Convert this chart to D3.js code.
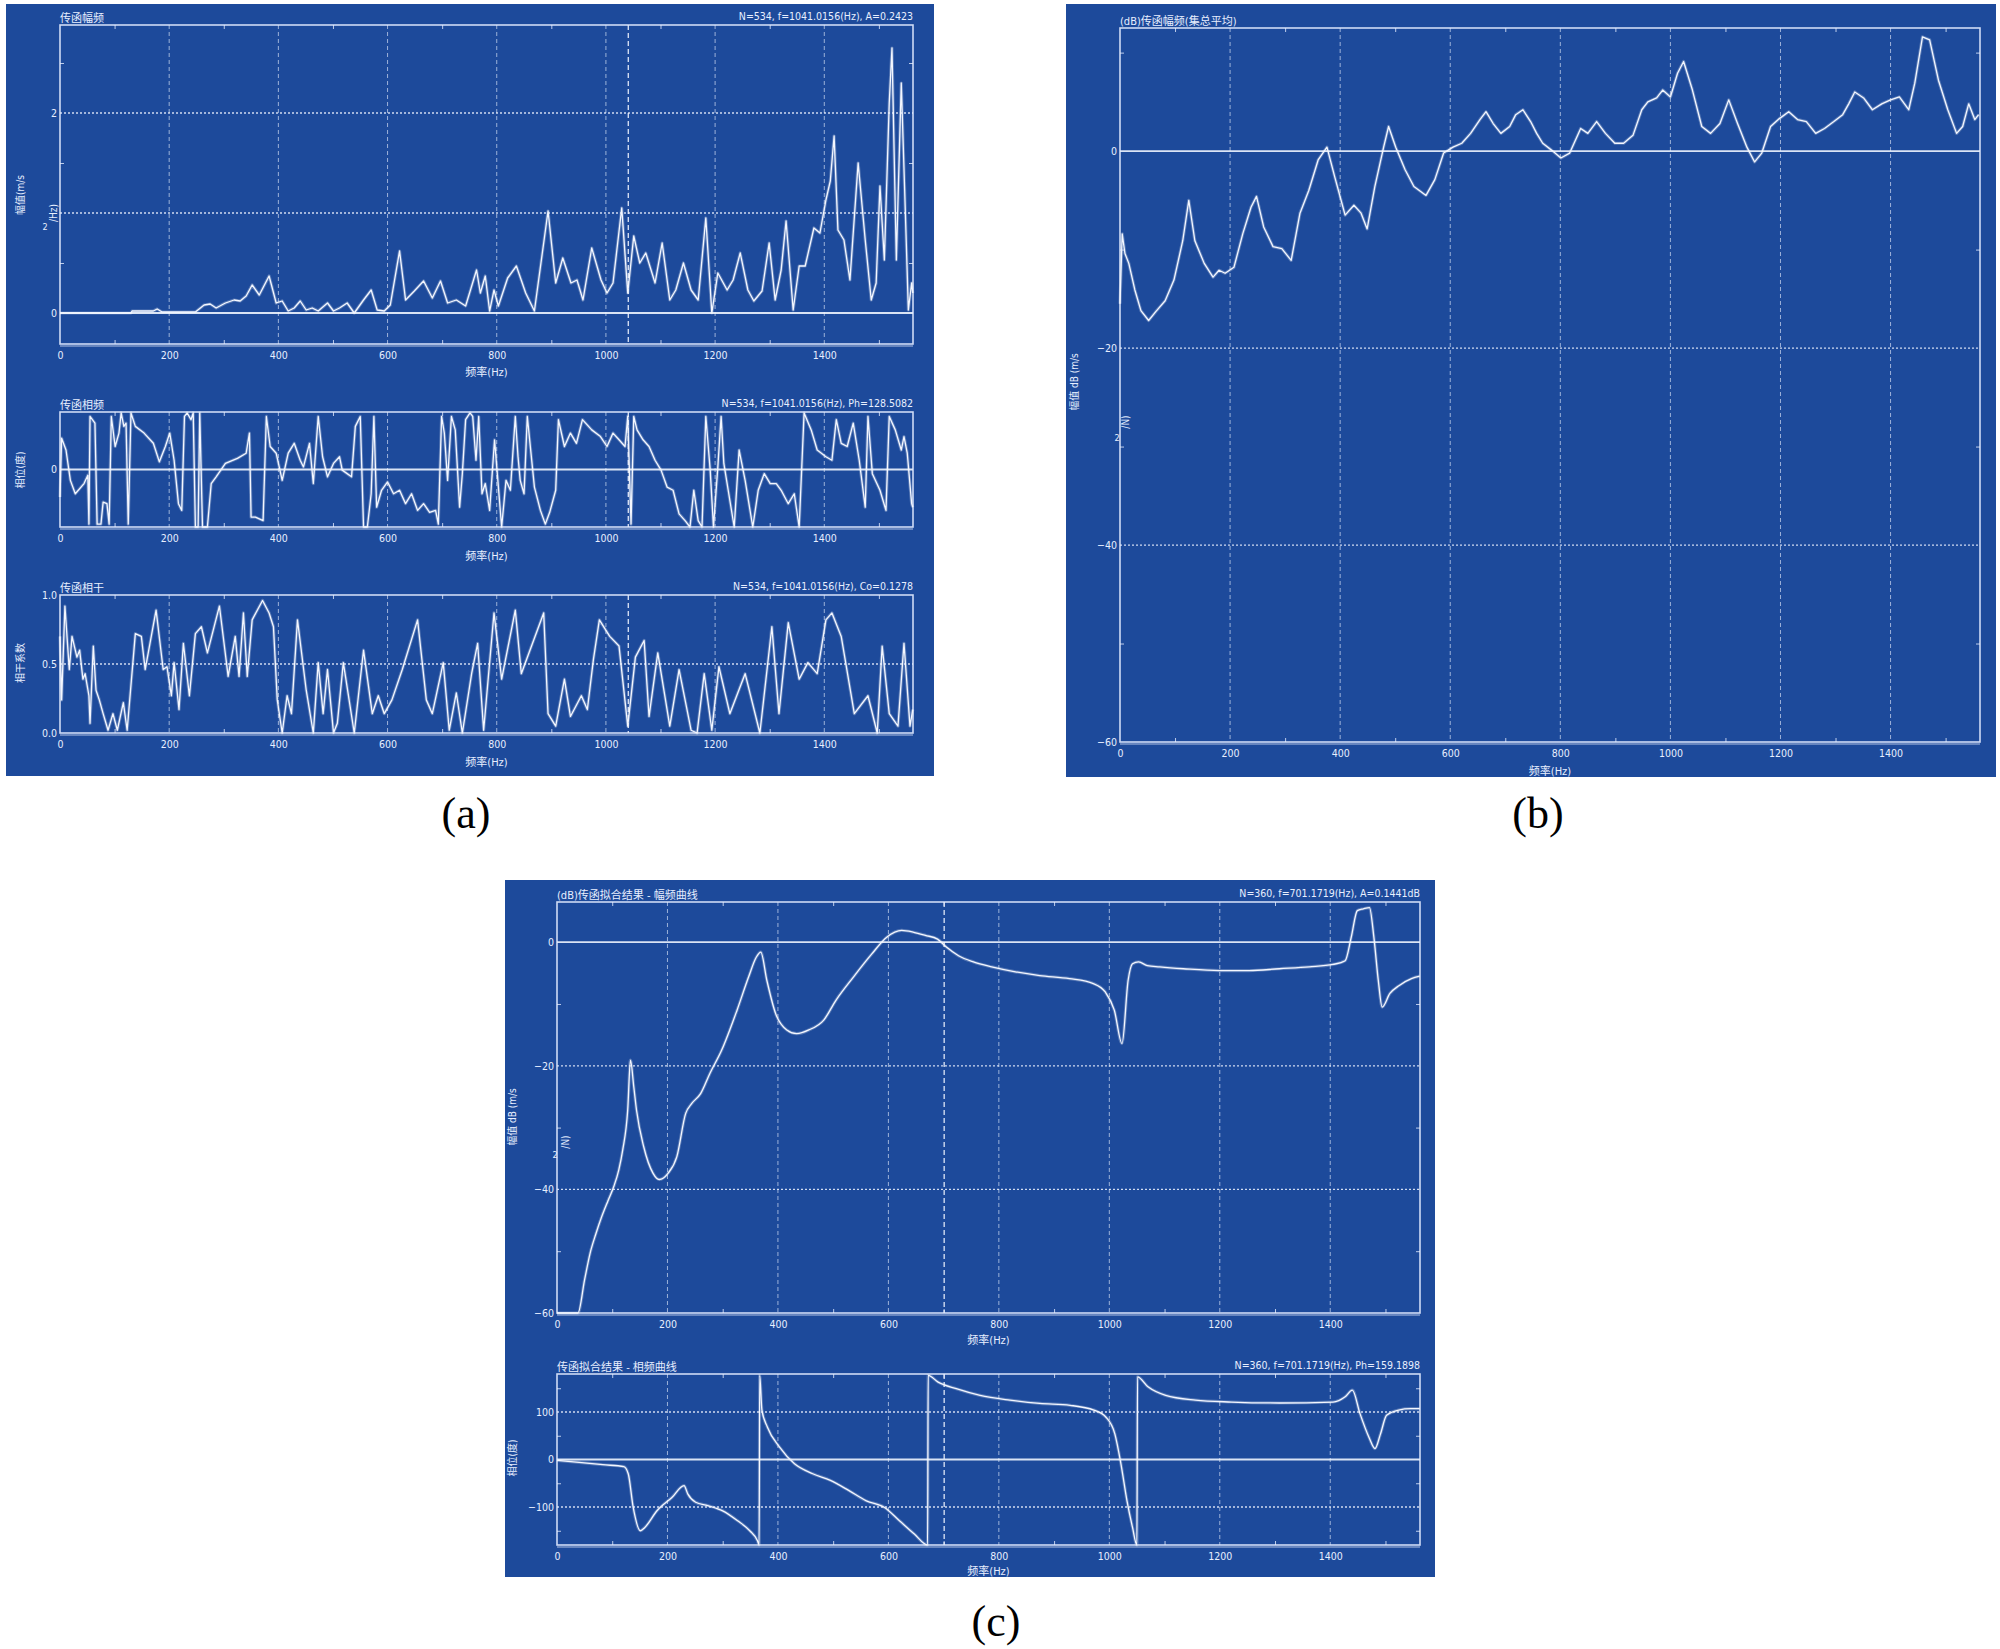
<!DOCTYPE html>
<html>
<head>
<meta charset="utf-8">
<script src="https://cdn.jsdelivr.net/npm/d3@7"></script>
<style>
body { margin: 0; background: #fff; }
svg text { font-family: "Liberation Sans Narrow", "DejaVu Sans Condensed", "Noto Sans CJK SC", sans-serif; fill: #e8efff; }
svg text.caption { font-family: "Liberation Serif", "DejaVu Serif", serif; fill: #000; }
</style>
</head>
<body>
<svg id="fig" width="2000" height="1649"></svg>
<script>
const fMax = 1562.5;
const freqTicks = [0, 200, 400, 600, 800, 1000, 1200, 1400];
const freqMinor = [100, 300, 500, 700, 900, 1100, 1300, 1500];

// (a) 传函幅频
const ampFreq = [0,130,132,171,178,187,248,264,275,286,303,319,330,341,352,365,383,396,407,418,429,440,451,462,473,490,501,512,526,539,556,570,581,594,605,622,633,649,666,682,697,710,726,743,763,770,779,787,795,803,820,836,853,869,894,908,921,936,947,958,974,991,1002,1013,1029,1040,1051,1062,1073,1090,1103,1117,1128,1142,1156,1169,1183,1194,1205,1222,1233,1246,1260,1271,1286,1299,1310,1321,1330,1343,1354,1365,1381,1392,1403,1411,1418,1425,1436,1447,1462,1475,1486,1495,1502,1510,1519,1524,1532,1541,1547,1554,1560,1562];
const ampVal = [0,0,0.02,0.02,0.04,0.01,0.01,0.08,0.09,0.05,0.1,0.13,0.12,0.17,0.28,0.18,0.37,0.1,0.12,0.02,0.05,0.12,0.03,0.05,0.02,0.1,0.02,0.05,0.1,0,0.13,0.23,0.03,0.02,0.08,0.62,0.13,0.22,0.32,0.15,0.32,0.1,0.13,0.07,0.43,0.2,0.37,0.02,0.23,0.07,0.35,0.47,0.2,0.02,1.02,0.3,0.55,0.3,0.33,0.13,0.65,0.33,0.2,0.3,1.05,0.2,0.77,0.5,0.6,0.3,0.7,0.13,0.23,0.5,0.23,0.13,0.95,0,0.4,0.23,0.33,0.6,0.23,0.12,0.22,0.7,0.13,0.43,0.92,0.03,0.47,0.47,0.85,0.8,1.13,1.32,1.77,0.83,0.73,0.33,1.5,0.73,0.13,0.3,1.27,0.53,2.1,2.65,0.53,2.3,1.27,0.03,0.3,0.2];

// (a) 传函相频
const phaseFreq = [0,3,11,19,28,44,51,53,55,64,68,75,79,86,90,94,101,108,112,117,121,125,130,138,154,171,182,193,201,209,217,223,228,233,240,244,248,253,256,261,270,277,286,303,325,341,347,350,358,372,378,385,396,407,418,429,440,446,457,464,473,481,490,501,512,517,526,534,541,550,556,563,570,575,580,589,600,611,622,633,644,655,666,677,688,693,699,704,710,717,724,732,737,743,751,756,762,767,773,779,787,796,809,817,825,834,839,843,850,856,869,880,889,897,908,913,924,935,946,957,974,990,1002,1013,1024,1035,1040,1046,1051,1057,1068,1079,1090,1101,1112,1123,1134,1145,1154,1161,1169,1176,1183,1191,1197,1205,1211,1216,1224,1235,1244,1255,1269,1279,1290,1301,1312,1321,1334,1345,1354,1363,1376,1387,1403,1414,1422,1431,1442,1453,1464,1475,1480,1488,1502,1513,1519,1530,1541,1546,1552,1560,1562];
const phaseVal = [-86,98,61,-34,-76,-44,-18,-171,166,145,-171,-171,-102,-107,-171,166,72,114,177,135,145,-171,177,135,114,82,24,72,114,29,-107,-128,166,177,156,177,-180,-180,177,-180,-180,-44,-23,19,35,51,114,-149,-149,-160,166,72,51,-34,51,82,29,8,82,-44,166,40,-23,19,40,-2,-13,-23,135,166,-180,-180,-76,166,-118,-65,-39,-76,-65,-107,-76,-128,-107,-134,-128,-171,166,114,-34,166,124,-118,-13,156,177,166,29,166,-76,-44,-128,93,-180,-34,-65,166,40,-34,-76,166,-55,-128,-171,-134,-65,156,72,114,82,156,124,103,72,114,93,72,166,-171,166,124,93,72,29,-2,-55,-65,-139,-160,-180,-65,-160,-180,166,-2,-180,8,166,19,-65,-180,61,-34,-180,-65,-13,-44,-44,-65,-107,-76,-180,177,124,61,40,29,156,82,72,145,29,-118,166,-13,-65,-128,166,124,61,103,51,-107,-118];

// (a) 传函相干
const cohFreq = [0,3,9,17,22,31,36,42,46,53,55,61,66,72,79,88,97,105,116,123,138,149,156,176,189,196,204,209,218,226,237,248,259,270,292,308,321,328,336,343,352,371,383,391,398,407,416,424,435,451,464,473,482,490,501,508,519,539,556,572,583,594,608,627,655,671,682,702,713,726,737,754,765,776,795,809,834,845,886,894,908,924,935,955,966,977,988,1007,1024,1040,1054,1070,1079,1095,1117,1134,1156,1167,1180,1194,1207,1227,1255,1282,1304,1317,1334,1354,1370,1387,1403,1414,1431,1455,1480,1497,1506,1519,1535,1546,1557,1562];
const cohVal = [0.7,0.24,0.92,0.46,0.7,0.55,0.6,0.39,0.43,0.27,0.07,0.63,0.31,0.24,0.14,0.02,0.14,0.02,0.22,0.02,0.72,0.7,0.46,0.89,0.46,0.48,0.27,0.51,0.17,0.65,0.27,0.72,0.77,0.58,0.92,0.41,0.7,0.41,0.87,0.41,0.82,0.96,0.87,0.77,0.24,0,0.27,0.14,0.82,0.31,0,0.51,0.14,0.46,0,0.07,0.51,0,0.6,0.14,0.27,0.14,0.24,0.46,0.82,0.24,0.14,0.51,0.02,0.29,0,0.43,0.65,0.02,0.87,0.39,0.89,0.43,0.87,0.14,0.05,0.39,0.12,0.27,0.17,0.53,0.82,0.7,0.63,0.05,0.55,0.67,0.12,0.58,0.05,0.46,0.02,0,0.43,0.02,0.48,0.14,0.43,0,0.77,0.14,0.8,0.39,0.51,0.43,0.82,0.87,0.7,0.14,0.27,0,0.63,0.14,0.05,0.65,0.05,0.17];

// (b) (dB)传函幅频(集总平均)
const avgFreq = [0,4,9,16,27,38,52,65,82,98,114,125,136,153,169,180,191,207,223,238,248,261,278,294,311,327,343,360,376,390,409,425,438,449,463,479,488,501,518,534,556,572,588,605,621,637,654,665,678,692,708,719,732,746,757,768,784,801,817,837,850,866,882,899,915,932,948,959,975,986,1000,1013,1024,1040,1057,1073,1090,1106,1122,1139,1153,1166,1182,1198,1215,1231,1247,1264,1280,1297,1313,1324,1335,1351,1367,1384,1400,1416,1433,1444,1458,1471,1487,1504,1520,1531,1542,1553,1560];
const avgDb = [-15.5,-8.4,-10.4,-11.4,-14.1,-16.2,-17.2,-16.3,-15.2,-13.1,-9.1,-5,-9.1,-11.4,-12.8,-12.1,-12.4,-11.8,-8.4,-5.7,-4.6,-7.7,-9.7,-9.9,-11.1,-6.3,-4,-0.9,0.4,-2.6,-6.5,-5.5,-6.3,-7.9,-3.6,0.4,2.5,0.4,-1.9,-3.6,-4.5,-2.9,-0.2,0.4,0.8,1.8,3.2,4,2.8,1.8,2.5,3.7,4.2,3,1.8,0.8,0.1,-0.7,-0.2,2.3,1.8,3,1.8,0.8,0.8,1.6,4.2,5,5.4,6.2,5.5,7.9,9.1,6.2,2.5,1.8,2.8,5.2,2.8,0.4,-1.1,-0.2,2.5,3.3,4,3.2,3,1.8,2.3,3,3.7,4.8,6,5.4,4.2,4.8,5.2,5.5,4.2,6.9,11.6,11.3,7.2,4.2,1.8,2.5,4.8,3.2,3.7];

// (c) 传函拟合结果 - 幅频曲线
const fitFreq = [0,38,50,60,70,81,92,103,112,119,128,133,139,144,157,174,185,201,217,233,244,260,277,298,326,347,361,369,380,396,416,434,456,483,505,537,570,597,624,646,667,689,705,727,754,787,830,874,928,971,993,1009,1023,1034,1042,1053,1069,1091,1134,1199,1253,1308,1362,1405,1427,1438,1449,1460,1471,1479,1487,1494,1508,1525,1547,1562];
const fitDb = [-60,-60,-54.6,-50.3,-47.3,-44.4,-41.9,-39.5,-36.8,-33.6,-27.2,-19.1,-23.4,-27.2,-33.1,-37.4,-38.4,-37.4,-34.7,-27.7,-26.1,-24.5,-21.2,-17.5,-11,-5.6,-2.4,-1.6,-6.2,-11.6,-14.2,-14.8,-14.2,-12.6,-9.4,-5.6,-1.9,0.8,1.9,1.6,1.1,0.5,-0.8,-2.2,-3.2,-4,-4.8,-5.4,-5.9,-6.7,-8.1,-11,-16.4,-6.2,-3.5,-3.2,-3.8,-4,-4.3,-4.6,-4.6,-4.3,-4,-3.6,-3,0.8,5.1,5.4,5.6,0.8,-6.2,-10.5,-8.3,-7,-5.9,-5.5];

// (c) 传函拟合结果 - 相频曲线
const fitPhFreq = [0,40,83,121,129,138,151,159,181,208,230,237,251,273,300,327,349,363,366,367,371,381,403,430,463,495,528,560,593,620,647,671,672,690,723,766,820,874,929,972,994,1010,1021,1032,1042,1050,1051,1070,1102,1156,1221,1308,1405,1427,1440,1454,1470,1481,1491,1502,1524,1545,1562];
const fitPhVal = [-2,-6,-11,-15,-30,-101,-150,-143,-108,-80,-55,-73,-90,-97,-108,-129,-150,-171,-180,177,104,68,26,-9,-30,-44,-65,-87,-101,-129,-157,-180,177,163,149,135,125,118,114,104,89,54,-9,-87,-143,-180,174,153,135,125,121,119,121,132,146,96,47,23,54,93,104,107,107];

const svg = d3.select('#fig');

class SpectrumPlot {
    constructor(opt) {
        Object.assign(this, opt);
        this.x = d3.scaleLinear().domain([0, fMax]).range([this.left, this.right]);
        this.y = d3.scaleLinear().domain(this.yDomain).range([this.bottom, this.top]);
        this.g = svg.append('g');
    }

    render() {
        this.renderGrid();
        this.renderCurve();
        this.renderAxis();
        this.renderText();
    }

    renderGrid() {
        const g = this.g;
        g.selectAll('.vgrid').data(freqTicks.slice(1)).enter().append('line')
            .attr('x1', d => this.x(d)).attr('x2', d => this.x(d))
            .attr('y1', this.top).attr('y2', this.bottom)
            .attr('stroke', 'rgba(235,242,255,0.62)').attr('stroke-width', 1)
            .attr('stroke-dasharray', '4,3');
        g.selectAll('.hgrid').data(this.yGrid).enter().append('line')
            .attr('x1', this.left).attr('x2', this.right)
            .attr('y1', d => this.y(d)).attr('y2', d => this.y(d))
            .attr('stroke', 'rgba(240,245,255,0.85)').attr('stroke-width', 1.3)
            .attr('stroke-dasharray', '2,2');
        if (this.yDomain[0] < 0 && this.yDomain[1] > 0) {
            g.append('line')
                .attr('x1', this.left).attr('x2', this.right)
                .attr('y1', this.y(0)).attr('y2', this.y(0))
                .attr('stroke', 'rgba(240,245,255,0.9)').attr('stroke-width', 1.8);
        }
        if (this.cursor) {
            g.append('line')
                .attr('x1', this.x(this.cursor)).attr('x2', this.x(this.cursor))
                .attr('y1', this.top).attr('y2', this.bottom)
                .attr('stroke', 'rgba(240,245,255,0.85)').attr('stroke-width', 1.4)
                .attr('stroke-dasharray', '5,3');
        }
        g.append('rect')
            .attr('x', this.left).attr('y', this.top)
            .attr('width', this.right - this.left).attr('height', this.bottom - this.top)
            .attr('fill', 'none').attr('stroke', 'rgba(225,235,255,0.9)').attr('stroke-width', 1.6);
        g.append('line')
            .attr('x1', this.left).attr('x2', this.right)
            .attr('y1', this.bottom + 2).attr('y2', this.bottom + 2)
            .attr('stroke', 'rgba(225,235,255,0.75)').attr('stroke-width', 1.2);
    }

    renderCurve() {
        const line = d3.line()
            .x(d => this.x(d[0]))
            .y(d => this.y(Math.max(this.yDomain[0], Math.min(this.yDomain[1], d[1]))))
            .curve(this.curve || d3.curveLinear);
        const pts = this.freq.map((f, i) => [f, this.vals[i]]);
        this.g.append('path').datum(pts).attr('d', line)
            .attr('fill', 'none').attr('stroke', 'rgba(255,255,255,0.25)').attr('stroke-width', 3.2)
            .attr('stroke-linejoin', 'round');
        this.g.append('path').datum(pts).attr('d', line)
            .attr('fill', 'none').attr('stroke', '#f4f7ff').attr('stroke-width', 1.3)
            .attr('stroke-linejoin', 'round');
    }

    renderAxis() {
        const xAxis = this.g.append('g')
            .attr('transform', `translate(0, ${this.bottom})`)
            .call(d3.axisBottom(this.x).tickValues(freqTicks).tickSize(0).tickPadding(8)
                .tickFormat(d3.format('d')));
        xAxis.select('.domain').remove();
        xAxis.selectAll('text').attr('font-size', 10.5).attr('fill', '#e8efff');

        const yAxis = this.g.append('g')
            .attr('transform', `translate(${this.left}, 0)`)
            .call(d3.axisLeft(this.y).tickValues(this.yTicks).tickSize(0).tickPadding(3)
                .tickFormat(this.yFormat || d3.format('d')));
        yAxis.select('.domain').remove();
        yAxis.selectAll('text').attr('font-size', 10.5).attr('fill', '#e8efff');

        // minor ticks, pointing inward
        const tickStroke = 'rgba(230,238,255,0.8)';
        const top = this.g.append('g').attr('transform', `translate(0, ${this.top})`)
            .call(d3.axisBottom(this.x).tickValues(freqMinor.filter(d => d < fMax)).tickSize(4).tickFormat(''));
        const bot = this.g.append('g').attr('transform', `translate(0, ${this.bottom})`)
            .call(d3.axisTop(this.x).tickValues(freqMinor.filter(d => d < fMax)).tickSize(4).tickFormat(''));
        const lft = this.g.append('g').attr('transform', `translate(${this.left}, 0)`)
            .call(d3.axisRight(this.y).tickValues(this.yMinor || []).tickSize(4).tickFormat(''));
        const rgt = this.g.append('g').attr('transform', `translate(${this.right}, 0)`)
            .call(d3.axisLeft(this.y).tickValues(this.yMinor || []).tickSize(4).tickFormat(''));
        [top, bot, lft, rgt].forEach(a => {
            a.select('.domain').remove();
            a.selectAll('line').attr('stroke', tickStroke);
        });
    }

    renderText() {
        const g = this.g;
        g.append('text').attr('x', this.left).attr('y', this.top - 3)
            .attr('font-size', 11).text(this.title);
        if (this.info) {
            g.append('text').attr('x', this.right).attr('y', this.top - 5)
                .attr('text-anchor', 'end').attr('font-size', 10.5).text(this.info);
        }
        g.append('text')
            .attr('x', (this.left + this.right) / 2).attr('y', this.xTitleY)
            .attr('text-anchor', 'middle').attr('dominant-baseline', 'middle')
            .attr('font-size', 11).text('频率(Hz)');
        const yt = this.yTitle;
        g.append('text')
            .attr('transform', `translate(${yt.x}, ${yt.y}) rotate(-90)`)
            .attr('text-anchor', 'middle').attr('dominant-baseline', 'middle')
            .attr('font-size', 10).text(yt.text);
        if (yt.unit) {
            g.append('text')
                .attr('transform', `translate(${yt.unit.x}, ${yt.unit.y}) rotate(-90)`)
                .attr('text-anchor', 'middle').attr('dominant-baseline', 'middle')
                .attr('font-size', 10).text(yt.unit.text);
            g.append('text').attr('x', yt.sup.x).attr('y', yt.sup.y)
                .attr('text-anchor', 'middle').attr('dominant-baseline', 'middle')
                .attr('font-size', 9).text('2');
        }
    }
}

// panel backgrounds
const panels = [
    { x: 6, y: 4, w: 928, h: 772, label: '(a)', lx: 466, ly: 828 },
    { x: 1066, y: 4, w: 930, h: 773, label: '(b)', lx: 1538, ly: 828 },
    { x: 505, y: 880, w: 930, h: 697, label: '(c)', lx: 996, ly: 1636 }
];
svg.append('rect').attr('width', 2000).attr('height', 1649).attr('fill', '#fff');
svg.selectAll('.panel').data(panels).enter().append('rect')
    .attr('x', d => d.x).attr('y', d => d.y).attr('width', d => d.w).attr('height', d => d.h)
    .attr('fill', '#1d4a9b');
svg.selectAll('.caption').data(panels).enter().append('text')
    .attr('class', 'caption')
    .attr('x', d => d.lx).attr('y', d => d.ly)
    .attr('text-anchor', 'middle').attr('font-size', 44)
    .text(d => d.label);

const plots = [
    new SpectrumPlot({
        left: 60, right: 913, top: 25, bottom: 344, yDomain: [-0.31, 2.88],
        yTicks: [0, 2], yGrid: [1, 2], yMinor: [0.5, 1.5, 2.5], cursor: 1041,
        freq: ampFreq, vals: ampVal,
        title: '传函幅频', info: 'N=534, f=1041.0156(Hz), A=0.2423', xTitleY: 373,
        yTitle: { x: 21, y: 195, text: '幅值(m/s',
            unit: { x: 54, y: 213, text: '/Hz)' }, sup: { x: 45, y: 227 } }
    }),
    new SpectrumPlot({
        left: 60, right: 913, top: 412, bottom: 527, yDomain: [-180, 180],
        yTicks: [0], yGrid: [], cursor: 1041,
        freq: phaseFreq, vals: phaseVal,
        title: '传函相频', info: 'N=534, f=1041.0156(Hz), Ph=128.5082', xTitleY: 557,
        yTitle: { x: 21, y: 470, text: '相位(度)' }
    }),
    new SpectrumPlot({
        left: 60, right: 913, top: 595, bottom: 733, yDomain: [0, 1],
        yTicks: [0, 0.5, 1], yGrid: [0.5], cursor: 1041, yFormat: d3.format('.1f'),
        freq: cohFreq, vals: cohVal,
        title: '传函相干', info: 'N=534, f=1041.0156(Hz), Co=0.1278', xTitleY: 763,
        yTitle: { x: 21, y: 663, text: '相干系数' }
    }),
    new SpectrumPlot({
        left: 1120, right: 1980, top: 28, bottom: 742, yDomain: [-60, 12.5],
        yTicks: [0, -20, -40, -60], yGrid: [-20, -40], yMinor: [10, -10, -30, -50],
        freq: avgFreq, vals: avgDb,
        title: '(dB)传函幅频(集总平均)', xTitleY: 772,
        yTitle: { x: 1075, y: 382, text: '幅值 dB (m/s',
            unit: { x: 1126, y: 422, text: '/N)' }, sup: { x: 1117, y: 438 } }
    }),
    new SpectrumPlot({
        left: 557, right: 1420, top: 902, bottom: 1313, yDomain: [-60, 6.5],
        yTicks: [0, -20, -40, -60], yGrid: [-20, -40], yMinor: [-10, -30, -50], cursor: 701,
        freq: fitFreq, vals: fitDb, curve: d3.curveMonotoneX,
        title: '(dB)传函拟合结果 - 幅频曲线', info: 'N=360, f=701.1719(Hz), A=0.1441dB', xTitleY: 1341,
        yTitle: { x: 513, y: 1117, text: '幅值 dB (m/s',
            unit: { x: 566, y: 1142, text: '/N)' }, sup: { x: 555, y: 1155 } }
    }),
    new SpectrumPlot({
        left: 557, right: 1420, top: 1374, bottom: 1545, yDomain: [-180, 180],
        yTicks: [100, 0, -100], yGrid: [100, -100], yMinor: [150, 50, -50, -150], cursor: 701,
        freq: fitPhFreq, vals: fitPhVal, curve: d3.curveMonotoneX,
        title: '传函拟合结果 - 相频曲线', info: 'N=360, f=701.1719(Hz), Ph=159.1898', xTitleY: 1572,
        yTitle: { x: 513, y: 1458, text: '相位(度)' }
    })
];
plots.forEach(p => p.render());
</script>
</body>
</html>
